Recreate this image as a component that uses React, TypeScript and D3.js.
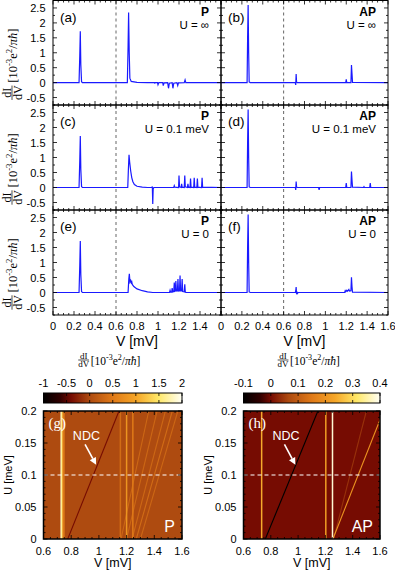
import { useEffect, useRef } from "react";
import * as d3 from "d3";

type Pt = [number, number];

// dI/dV curves, V [mV] -> dI/dV [10^-3 e^2/pi hbar]
const curveA: Pt[] = [
  [0, 0], [0.248, 0], [0.255, 0.9], [0.26, 1.72], [0.265, 0.6], [0.272, 0.03], [0.28, 0],
  [0.708, 0], [0.715, 1.2], [0.72, 2.35], [0.726, 1.0], [0.732, 0.15], [0.745, 0.04], [0.8, 0.01], [0.9, 0],
  [0.965, 0], [0.97, -0.02], [0.975, 0], [0.995, 0], [1.0, -0.07], [1.008, 0], [1.045, 0], [1.05, -0.1], [1.058, -0.01],
  [1.092, 0], [1.1, -0.19], [1.108, -0.02], [1.135, 0], [1.142, -0.19], [1.15, -0.02], [1.18, 0], [1.188, -0.1],
  [1.195, -0.01], [1.25, 0], [1.258, 0.09], [1.265, 0], [1.6, 0],
];
const curveB: Pt[] = [
  [0, 0], [0.25, 0], [0.255, 1.5], [0.26, 2.6], [0.265, 1.0], [0.27, 0.02], [0.28, 0],
  [0.712, 0], [0.716, -0.08], [0.72, 0.29], [0.724, 0.02], [0.73, 0],
  [1.195, 0], [1.2, 0.11], [1.205, 0],
  [1.245, 0], [1.25, 0.59], [1.255, 0.3], [1.26, 0.01], [1.6, 0],
];
const curveC: Pt[] = [
  [0, 0], [0.248, 0], [0.255, 0.9], [0.26, 1.72], [0.265, 0.6], [0.272, 0.03], [0.28, 0],
  [0.712, 0], [0.718, 0.6], [0.724, 1.09], [0.73, 0.85], [0.74, 0.55], [0.75, 0.33], [0.76, 0.2], [0.775, 0.1],
  [0.8, 0.04], [0.85, 0.01], [0.9, 0],
  [0.942, 0], [0.946, 0.03], [0.95, -0.55], [0.954, -0.05], [0.96, 0],
  [1.15, 0], [1.155, 0.06], [1.16, 0.01], [1.196, 0], [1.2, 0.4], [1.205, 0.02], [1.22, 0], [1.225, 0.12],
  [1.23, 0.01], [1.25, 0], [1.255, 0.4], [1.26, 0.02], [1.28, 0], [1.285, 0.12], [1.29, 0.01], [1.305, 0],
  [1.31, 0.3], [1.315, 0.01], [1.34, 0], [1.345, 0.32], [1.35, 0.01], [1.37, 0], [1.375, 0.3], [1.38, 0.01],
  [1.415, 0], [1.42, 0.32], [1.425, 0.01], [1.6, 0],
];
const curveD: Pt[] = [
  [0, 0], [0.25, 0], [0.255, 1.5], [0.26, 2.6], [0.265, 1.0], [0.27, 0.02], [0.28, 0],
  [0.712, 0], [0.716, -0.08], [0.72, 0.2], [0.724, 0.02], [0.73, 0],
  [0.935, 0], [0.94, -0.08], [0.945, 0],
  [1.195, 0], [1.2, 0.15], [1.205, 0], [1.245, 0], [1.25, 0.53], [1.255, 0.25], [1.26, 0.01],
  [1.365, 0], [1.37, 0.03], [1.375, 0], [1.425, 0], [1.43, 0.15], [1.435, 0], [1.6, 0],
];
const curveE: Pt[] = [
  [0, 0], [0.248, 0], [0.255, 0.9], [0.26, 1.72], [0.265, 0.6], [0.272, 0.03], [0.28, 0],
  [0.715, 0], [0.722, 0.45], [0.727, 0.62], [0.733, 0.35], [0.74, 0.4], [0.745, 0.33], [0.75, 0.36],
  [0.755, 0.27], [0.77, 0.2], [0.8, 0.12], [0.85, 0.06], [0.9, 0.02], [0.95, 0],
  [1.11, 0], [1.115, 0.07], [1.12, 0.01], [1.13, 0.01], [1.135, 0.15], [1.14, 0.02], [1.15, 0.03],
  [1.155, 0.33], [1.16, 0.04], [1.165, 0.05], [1.17, 0.38], [1.175, 0.05], [1.185, 0.06], [1.19, 0.45],
  [1.195, 0.05], [1.205, 0.06], [1.21, 0.57], [1.215, 0.05], [1.225, 0.05], [1.23, 0.45], [1.235, 0.03],
  [1.25, 0.02], [1.255, 0.27], [1.26, 0.01], [1.27, 0], [1.6, 0],
];
const curveF: Pt[] = [
  [0, 0], [0.25, 0], [0.255, 1.5], [0.26, 2.6], [0.265, 1.0], [0.27, 0.02], [0.28, 0],
  [0.712, 0], [0.716, 0.05], [0.72, 0.18], [0.724, -0.06], [0.728, 0.03], [0.732, -0.05], [0.736, 0],
  [1.185, 0], [1.19, 0.06], [1.195, 0.03], [1.205, 0.07], [1.21, 0.04], [1.225, 0.1], [1.23, 0.05],
  [1.245, 0.06], [1.25, 0.51], [1.255, 0.2], [1.26, 0.01], [1.6, 0],
];

const curves = [curveA, curveB, curveC, curveD, curveE, curveF];
const panelLetters = ["(a)", "(b)", "(c)", "(d)", "(e)", "(f)"];
const panelConfig = ["P", "AP", "P", "AP", "P", "AP"];
const panelU = ["U = ∞", "U = ∞", "U = 0.1 meV", "U = 0.1 meV", "U = 0", "U = 0"];
const xTicksLeft = [0, 0.2, 0.4, 0.6, 0.8, 1, 1.2, 1.4];
const xTicksRight = [0, 0.2, 0.4, 0.6, 0.8, 1, 1.2, 1.4, 1.6];
const yTicksTop = [-0.5, 0, 0.5, 1, 1.5, 2, 2.5];

// colour maps (g: P, h: AP)
const paletteStops = [0, 0.12, 0.2, 0.33, 0.5, 0.67, 0.83, 1];
const paletteColors = ["#000000", "#300000", "#760c02", "#ad4a10", "#e07a18", "#f5a628", "#ffe868", "#fffff5"];
const cbTicksP = [-1, -0.5, 0, 0.5, 1, 1.5, 2];
const cbTicksAP = [-0.1, 0, 0.1, 0.2, 0.3, 0.4];
const heatXTicks = [0.6, 0.8, 1, 1.2, 1.4, 1.6];
const heatYTicks = [0, 0.05, 0.1, 0.15, 0.2];

// vertical features: [V, dI/dV]
const vLinesP: Pt[] = [[0.728, 1.9], [0.734, 1.55], [0.741, 0.85], [0.748, 0.45], [1.155, 0.35], [1.2, 0.8], [1.245, 0.5]];
const vLinesAP: Pt[] = [[0.733, 0.24], [1.203, 0.22], [1.252, 0.38]];
// diagonal features: [V at U=0, V at U=0.2, dI/dV]
const dLinesP: [number, number, number][] = [
  [0.775, 1.145, -0.4], [1.16, 1.36, 0.3], [1.2, 1.42, 0.3], [1.24, 1.48, 0.3], [1.27, 1.53, 0.35], [1.3, 1.57, 0.3],
];
const dLinesAP: [number, number, number][] = [[0.76, 1.145, -0.1], [1.26, 1.5, 0.04], [1.255, 1.625, 0.2]];
const ndcArrow: [Pt, Pt] = [[0.9, 0.148], [0.98, 0.116]];
const ndcLabel: Pt = [0.812, 0.155];

const SANS = "'Liberation Sans', Arial, sans-serif";
const SERIF = "'Liberation Serif', 'DejaVu Serif', serif";

const unitText = (t: any, size: number) => {
  t.append("tspan").text("[10");
  t.append("tspan").attr("dy", -size * 0.4).attr("font-size", size * 0.7).text("-3");
  t.append("tspan").attr("dy", size * 0.4).text("e");
  t.append("tspan").attr("dy", -size * 0.4).attr("font-size", size * 0.7).text("2");
  t.append("tspan").attr("dy", size * 0.4).text("/");
  t.append("tspan").attr("font-style", "italic").text("πħ");
  t.append("tspan").text("]");
};

const fraction = (g: any, cx: number, cy: number, size: number) => {
  g.append("text").attr("x", cx).attr("y", cy - 1.5).attr("text-anchor", "middle")
    .attr("font-size", size).attr("font-family", SERIF).text("dI");
  g.append("line").attr("x1", cx - size * 0.6).attr("x2", cx + size * 0.6).attr("y1", cy).attr("y2", cy)
    .attr("stroke", "#000").attr("stroke-width", 0.7);
  g.append("text").attr("x", cx).attr("y", cy + size * 0.8).attr("text-anchor", "middle")
    .attr("font-size", size).attr("font-family", SERIF).text("dV");
};

const App = () => {
  const ref = useRef<SVGSVGElement>(null);

  useEffect(() => {
    document.body.style.margin = "0";
    if (!ref.current) return;
    const svg = d3.select(ref.current);
    svg.selectAll("*").remove();

    const colX = [[53, 221], [221, 388]];
    const rowY = [[0.5, 105], [105, 210], [210, 315]];

    // Paneles superiores
    curves.forEach((data, i) => {
      const col = i % 2;
      const row = Math.floor(i / 2);
      const x = d3.scaleLinear().domain([0, 1.6]).range(colX[col]);
      const y = d3.scaleLinear().domain([-0.75, 2.75]).range([rowY[row][1], rowY[row][0]]);
      const g = svg.append("g");
      const clipId = `clip-top-${i}`;
      g.append("clipPath").attr("id", clipId).append("rect")
        .attr("x", x(0)).attr("y", y(2.75)).attr("width", x(1.6) - x(0)).attr("height", y(-0.75) - y(2.75));

      g.append("line").attr("x1", x(0.6)).attr("x2", x(0.6)).attr("y1", y(2.75)).attr("y2", y(-0.75))
        .attr("stroke", "#555").attr("stroke-dasharray", "3,3").attr("stroke-width", 0.9);

      const line = d3.line<Pt>().x((d) => x(d[0])).y((d) => y(d[1]));
      g.append("path").datum(data).attr("d", line).attr("fill", "none")
        .attr("stroke", "#1a1aff").attr("stroke-width", 1.2).attr("clip-path", `url(#${clipId})`);

      // ticks
      const ticks = g.append("g").attr("stroke", "#000").attr("stroke-width", 0.8);
      d3.range(0, 1.6001, 0.05).forEach((v, k) => {
        const len = k % 4 === 0 ? 4 : 2;
        ticks.append("line").attr("x1", x(v)).attr("x2", x(v)).attr("y1", y(-0.75)).attr("y2", y(-0.75) - len);
        ticks.append("line").attr("x1", x(v)).attr("x2", x(v)).attr("y1", y(2.75)).attr("y2", y(2.75) + len);
      });
      d3.range(-0.75, 2.7501, 0.25).forEach((v) => {
        const len = Math.abs(Math.round(v * 2) - v * 2) < 1e-6 ? 4 : 2;
        ticks.append("line").attr("x1", x(0)).attr("x2", x(0) + len).attr("y1", y(v)).attr("y2", y(v));
        ticks.append("line").attr("x1", x(1.6)).attr("x2", x(1.6) - len).attr("y1", y(v)).attr("y2", y(v));
      });

      g.append("rect").attr("x", x(0)).attr("y", y(2.75)).attr("width", x(1.6) - x(0))
        .attr("height", y(-0.75) - y(2.75)).attr("fill", "none").attr("stroke", "#000").attr("stroke-width", 1);

      g.append("text").attr("x", x(0) + 7).attr("y", y(2.75) + 21).attr("font-family", SANS)
        .attr("font-size", 13.5).text(panelLetters[i]);
      g.append("text").attr("x", x(1.6) - 12).attr("y", y(2.75) + 15).attr("text-anchor", "end")
        .attr("font-family", SANS).attr("font-weight", "bold").attr("font-size", 12).text(panelConfig[i]);
      g.append("text").attr("x", x(1.6) - 12).attr("y", y(2.75) + 28).attr("text-anchor", "end")
        .attr("font-family", SANS).attr("font-size", 11.5).text(panelU[i]);

      if (col === 0) {
        yTicksTop.forEach((v) => {
          g.append("text").attr("x", x(0) - 7.5).attr("y", y(v) + 4).attr("text-anchor", "end")
            .attr("font-family", SANS).attr("font-size", 11).text(String(v));
        });
        const cy = (y(2.75) + y(-0.75)) / 2;
        const lab = g.append("g").attr("transform", `translate(12,${cy}) rotate(-90)`);
        fraction(lab, -40, 0, 12);
        const t = lab.append("text").attr("x", -30).attr("y", 5).attr("font-family", SERIF).attr("font-size", 12.5);
        unitText(t, 12.5);
      }
      if (row === 2) {
        (col === 0 ? xTicksLeft : xTicksRight).forEach((v) => {
          g.append("text").attr("x", x(v)).attr("y", y(-0.75) + 15).attr("text-anchor", "middle")
            .attr("font-family", SANS).attr("font-size", 11).text(String(v));
        });
        g.append("text").attr("x", (x(0) + x(1.6)) / 2).attr("y", y(-0.75) + 31).attr("text-anchor", "middle")
          .attr("font-family", SANS).attr("font-size", 14).text("V [mV]");
      }
    });

    // Mapas de calor
    const heatmaps = [
      { id: "g", x0: 43.5, x1: 182, dom: [-1, 2], cbTicks: cbTicksP, vLines: vLinesP, dLines: dLinesP, tag: "P" },
      { id: "h", x0: 243.5, x1: 380, dom: [-0.1, 0.4], cbTicks: cbTicksAP, vLines: vLinesAP, dLines: dLinesAP, tag: "AP" },
    ];

    heatmaps.forEach((hm) => {
      const [lo, hi] = hm.dom;
      const color = d3.scaleLinear<string>()
        .domain(paletteStops.map((s) => lo + s * (hi - lo)))
        .range(paletteColors)
        .clamp(true);
      const x = d3.scaleLinear().domain([0.6, 1.6]).range([hm.x0, hm.x1]);
      const y = d3.scaleLinear().domain([0, 0.2]).range([539, 411]);
      const g = svg.append("g");

      // colorbar
      const cb = d3.scaleLinear().domain(hm.dom).range([hm.x0, hm.x1]);
      const gradId = `grad-${hm.id}`;
      const grad = g.append("defs").append("linearGradient").attr("id", gradId)
        .attr("x1", "0%").attr("x2", "100%").attr("y1", "0%").attr("y2", "0%");
      paletteStops.forEach((s, k) => {
        grad.append("stop").attr("offset", `${s * 100}%`).attr("stop-color", paletteColors[k]);
      });
      g.append("rect").attr("x", cb(lo)).attr("y", 393).attr("width", cb(hi) - cb(lo)).attr("height", 10)
        .attr("fill", `url(#${gradId})`).attr("stroke", "#000").attr("stroke-width", 1);
      hm.cbTicks.forEach((v) => {
        g.append("line").attr("x1", cb(v)).attr("x2", cb(v)).attr("y1", 393).attr("y2", 396)
          .attr("stroke", "#000").attr("stroke-width", 0.8);
        g.append("line").attr("x1", cb(v)).attr("x2", cb(v)).attr("y1", 403).attr("y2", 400)
          .attr("stroke", "#000").attr("stroke-width", 0.8);
        g.append("text").attr("x", cb(v)).attr("y", 387).attr("text-anchor", "middle")
          .attr("font-family", SANS).attr("font-size", 11).text(String(v));
      });
      const cbMid = hm.x0 + (hm.x1 - hm.x0) * 0.29;
      fraction(g, cbMid, 360, 9);
      const ct = g.append("text").attr("x", cbMid + 7).attr("y", 365).attr("font-family", SERIF).attr("font-size", 11.5);
      unitText(ct, 11.5);

      // heatmap body
      const clipId = `clip-heat-${hm.id}`;
      g.append("clipPath").attr("id", clipId).append("rect")
        .attr("x", x(0.6)).attr("y", y(0.2)).attr("width", x(1.6) - x(0.6)).attr("height", y(0) - y(0.2));
      const body = g.append("g").attr("clip-path", `url(#${clipId})`);
      body.append("rect").attr("x", x(0.6)).attr("y", y(0.2)).attr("width", x(1.6) - x(0.6))
        .attr("height", y(0) - y(0.2)).attr("fill", color(0));
      hm.dLines.forEach(([v0, v1, val]) => {
        body.append("line").attr("x1", x(v0)).attr("y1", y(0)).attr("x2", x(v1)).attr("y2", y(0.2))
          .attr("stroke", color(val)).attr("stroke-width", 1.1);
      });
      hm.vLines.forEach(([v, val]) => {
        body.append("line").attr("x1", x(v)).attr("x2", x(v)).attr("y1", y(0)).attr("y2", y(0.2))
          .attr("stroke", color(val)).attr("stroke-width", 1.5);
      });
      body.append("line").attr("x1", x(0.6)).attr("x2", x(1.6)).attr("y1", y(0.1)).attr("y2", y(0.1))
        .attr("stroke", "#fff").attr("stroke-width", 1.2).attr("stroke-dasharray", "4,3");

      // ticks
      const ticks = g.append("g").attr("stroke", "#000").attr("stroke-width", 0.8);
      d3.range(0.6, 1.6001, 0.05).forEach((v, k) => {
        const len = k % 4 === 0 ? 4 : 2;
        ticks.append("line").attr("x1", x(v)).attr("x2", x(v)).attr("y1", y(0)).attr("y2", y(0) - len);
        ticks.append("line").attr("x1", x(v)).attr("x2", x(v)).attr("y1", y(0.2)).attr("y2", y(0.2) + len);
      });
      d3.range(0, 0.2001, 0.01).forEach((v, k) => {
        const len = k % 5 === 0 ? 4 : 2;
        ticks.append("line").attr("x1", x(0.6)).attr("x2", x(0.6) + len).attr("y1", y(v)).attr("y2", y(v));
        ticks.append("line").attr("x1", x(1.6)).attr("x2", x(1.6) - len).attr("y1", y(v)).attr("y2", y(v));
      });
      g.append("rect").attr("x", x(0.6)).attr("y", y(0.2)).attr("width", x(1.6) - x(0.6))
        .attr("height", y(0) - y(0.2)).attr("fill", "none").attr("stroke", "#000").attr("stroke-width", 1.5);

      // annotations
      g.append("text").attr("x", x(0.6) + 5).attr("y", y(0.2) + 17).attr("font-family", SERIF)
        .attr("font-size", 15).attr("fill", "#fff").text(`(${hm.id})`);
      g.append("text").attr("x", x(ndcLabel[0])).attr("y", y(ndcLabel[1])).attr("font-family", SANS)
        .attr("font-size", 12.5).attr("fill", "#fff").text("NDC");
      const [a0, a1] = ndcArrow;
      const ax0 = x(a0[0]), ay0 = y(a0[1]), ax1 = x(a1[0]), ay1 = y(a1[1]);
      const ang = Math.atan2(ay1 - ay0, ax1 - ax0);
      const hl = 7, hw = 3.5;
      const bx = ax1 - hl * Math.cos(ang), by = ay1 - hl * Math.sin(ang);
      g.append("line").attr("x1", ax0).attr("y1", ay0).attr("x2", bx).attr("y2", by)
        .attr("stroke", "#fff").attr("stroke-width", 1.6);
      g.append("polygon").attr("fill", "#fff").attr("points", [
        [ax1, ay1],
        [bx + hw * Math.sin(ang), by - hw * Math.cos(ang)],
        [bx - hw * Math.sin(ang), by + hw * Math.cos(ang)],
      ].map((p) => p.join(",")).join(" "));
      g.append("text").attr("x", x(1.6) - 7).attr("y", y(0) - 7).attr("text-anchor", "end")
        .attr("font-family", SANS).attr("font-size", 16).attr("fill", "#fff").text(hm.tag);

      heatXTicks.forEach((v) => {
        g.append("text").attr("x", x(v)).attr("y", y(0) + 16).attr("text-anchor", "middle")
          .attr("font-family", SANS).attr("font-size", 11).text(String(v));
      });
      heatYTicks.forEach((v) => {
        g.append("text").attr("x", x(0.6) - 7).attr("y", y(v) + 4).attr("text-anchor", "end")
          .attr("font-family", SANS).attr("font-size", 11).text(String(v));
      });
      g.append("text").attr("x", (x(0.6) + x(1.6)) / 2).attr("y", y(0) + 28).attr("text-anchor", "middle")
        .attr("font-family", SANS).attr("font-size", 12.5).text("V [mV]");
      g.append("text").attr("transform", `translate(${x(0.6) - 32},${(y(0) + y(0.2)) / 2}) rotate(-90)`)
        .attr("text-anchor", "middle").attr("font-family", SANS).attr("font-size", 11).text("U [meV]");
    });
  }, []);

  return <svg ref={ref} width={395} height={571} style={{ display: "block", background: "#fff" }} />;
};

export default App;
